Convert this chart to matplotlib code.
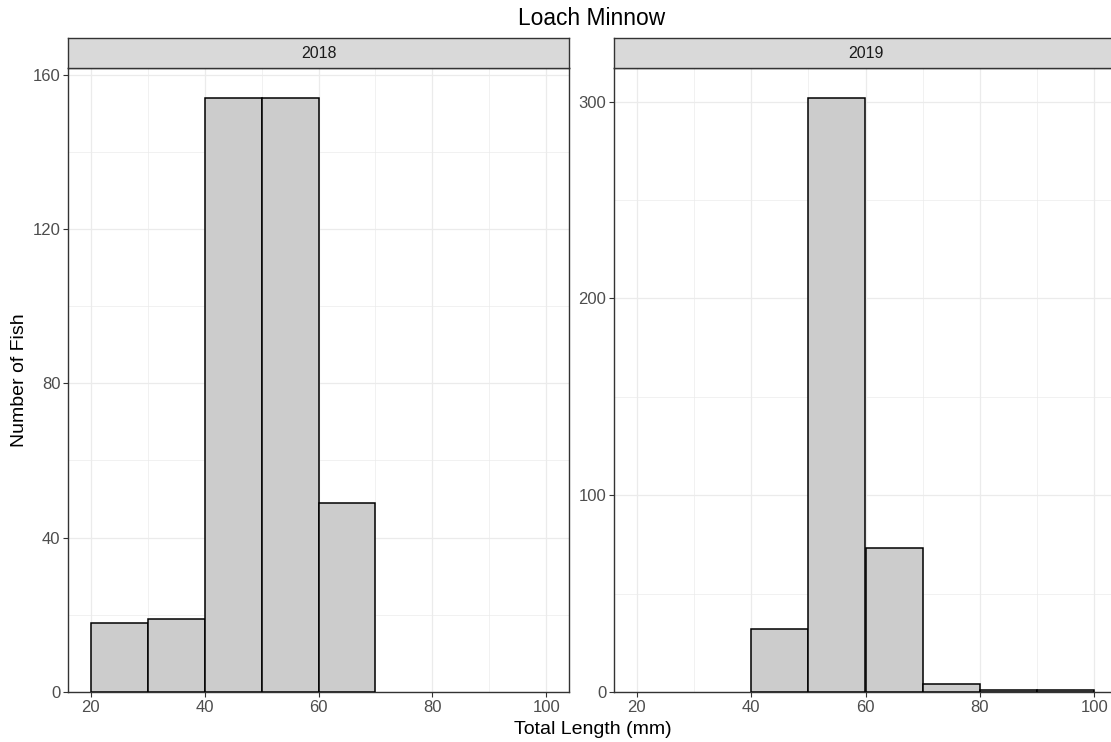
import matplotlib
matplotlib.use("Agg")
import matplotlib.pyplot as plt
import numpy as np

plt.rcParams["font.family"] = ["Liberation Sans", "DejaVu Sans"]

# --- Data: 10 mm bins from 20 to 100 ---
bin_edges = [20, 30, 40, 50, 60, 70, 80, 90, 100]
years = ["2018", "2019"]
counts_2018 = [18, 19, 154, 154, 49, 0, 0, 0]
counts_2019 = [0, 0, 32, 302, 73, 4, 1, 1]
y_ticks = {"2018": [0, 40, 80, 120, 160], "2019": [0, 100, 200, 300]}
x_ticks = [20, 40, 60, 80, 100]

fig = plt.figure(figsize=(11.11, 7.42), dpi=100)
W, H = 1111, 742

def px_box(x0, y0, x1, y1):
    return [x0 / W, 1 - y1 / H, (x1 - x0) / W, (y1 - y0) / H]

# panels as in facet_wrap, right one runs a bit past the image edge
panels = [(68, 569), (614, 1117)]
for (x0, x1), year, counts in zip(panels, years, [counts_2018, counts_2019]):
    ax = fig.add_axes(px_box(x0, 68, x1, 692))
    lefts = np.array(bin_edges[:-1])
    heights = np.array(counts)
    keep = heights > 0
    ax.bar(lefts[keep], heights[keep], width=10, align="edge",
           color="#CCCCCC", edgecolor="black", linewidth=1.1, zorder=3)

    ax.set_xlim(16, 104)
    ax.set_ylim(0, max(counts) * 1.05)
    ax.set_xticks(x_ticks)
    ax.set_xticks([30, 50, 70, 90], minor=True)
    yt = y_ticks[year]
    ax.set_yticks(yt)
    ax.set_yticks([(a + b) / 2 for a, b in zip(yt[:-1], yt[1:])], minor=True)
    ax.grid(which="major", color="#EBEBEB", linewidth=0.9, zorder=0)
    ax.grid(which="minor", color="#EBEBEB", linewidth=0.5, zorder=0)
    ax.set_axisbelow(True)
    ax.tick_params(which="major", length=3.5, width=0.8, color="#333333",
                   labelsize=12, labelcolor="#4D4D4D", pad=2)
    ax.tick_params(which="minor", length=0)
    for s in ax.spines.values():
        s.set_color("#333333")
        s.set_linewidth(1.0)

    # facet strip
    sax = fig.add_axes(px_box(x0, 38, x1, 68))
    sax.set_facecolor("#D9D9D9")
    sax.set_xticks([])
    sax.set_yticks([])
    for s in sax.spines.values():
        s.set_color("#333333")
        s.set_linewidth(1.0)
    sax.text(0.5, 0.5, year, ha="center", va="center", fontsize=11.5,
             color="#1A1A1A", transform=sax.transAxes)

fig.text(592 / W, 1 - 25 / H, "Loach Minnow", ha="center", va="baseline", fontsize=16.4)
fig.text(593 / W, 1 - 734 / H, "Total Length (mm)", ha="center", va="baseline", fontsize=14)
fig.text(20 / W, 1 - 380 / H, "Number of Fish", ha="center", va="center",
         fontsize=14, rotation=90)

fig.savefig("out.png", dpi=100)
